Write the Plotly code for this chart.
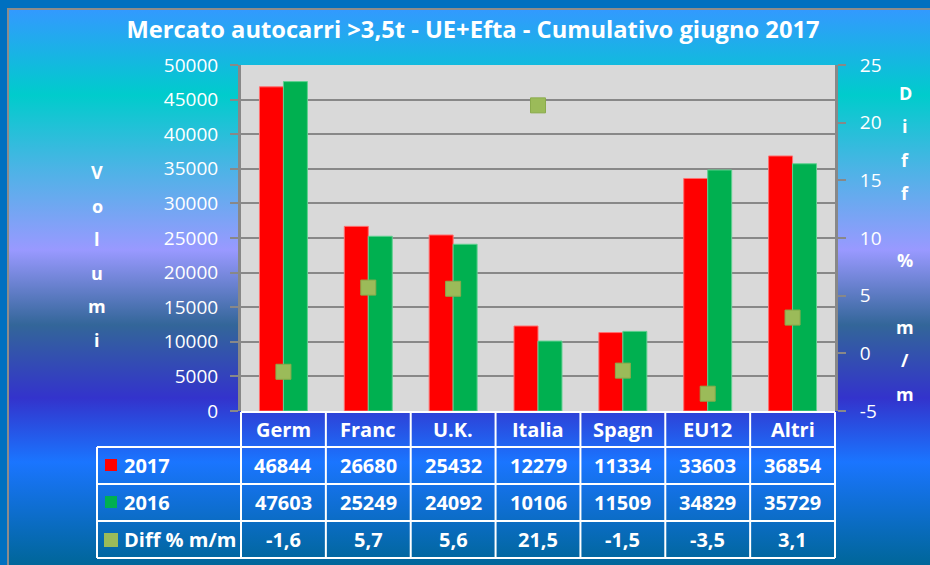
import base64
import plotly.graph_objects as go

# ---------------- data ----------------
categories = ["Germ", "Franc", "U.K.", "Italia", "Spagn", "EU12", "Altri"]
vol_2017 = [46844, 26680, 25432, 12279, 11334, 33603, 36854]
vol_2016 = [47603, 25249, 24092, 10106, 11509, 34829, 35729]
diff_pct = [-1.6, 5.7, 5.6, 21.5, -1.5, -3.5, 3.1]
series_names = ["2017", "2016", "Diff % m/m"]
left_ticks = [0, 5000, 10000, 15000, 20000, 25000, 30000, 35000, 40000, 45000, 50000]
right_ticks = [-5, 0, 5, 10, 15, 20, 25]
title_text = "Mercato autocarri >3,5t - UE+Efta - Cumulativo giugno 2017"
left_title = "Volumi"
right_title = "Diff % m/m"

# ---------------- styles ----------------
W, H = 930, 565
PL, PR, PT, PB = 241, 835, 65, 411
RED, GREEN, OLIVE = "#ff0000", "#00b050", "#9bbb59"
GRID = "#888888"
FONT = "Open Sans"


def px(x):
    return (x - PL) / (PR - PL)


def py(y):
    return (PB - y) / (PB - PT)


# gradient background as SVG
stops = [(9, "#3399ff"), (95, "#00cccc"), (170, "#4db3e6"), (250, "#9999ff"),
         (325, "#336699"), (398, "#3333cc"), (462, "#1a75ff"), (565, "#006699")]
stop_xml = "".join(
    f'<stop offset="{(y - 9) / 556:.4f}" stop-color="{c}"/>' for y, c in stops)
svg = (f'<svg xmlns="http://www.w3.org/2000/svg" width="{W}" height="{H}" '
       f'viewBox="0 0 {W} {H}" preserveAspectRatio="none"><defs>'
       f'<linearGradient id="g" x1="0" y1="9" x2="0" y2="565" gradientUnits="userSpaceOnUse">'
       f'{stop_xml}</linearGradient></defs>'
       f'<rect width="{W}" height="{H}" fill="#0070c0"/>'
       f'<rect x="8" y="9" width="960" height="620" fill="url(#g)" stroke="#8c8c8c" stroke-width="2"/>'
       f'</svg>')
svg_uri = "data:image/svg+xml;base64," + base64.b64encode(svg.encode()).decode()

fig = go.Figure()
fig.add_trace(go.Bar(x=categories, y=vol_2017, name=series_names[0],
                     marker=dict(color=RED, line=dict(color="#ff7070", width=1))))
fig.add_trace(go.Bar(x=categories, y=vol_2016, name=series_names[1],
                     marker=dict(color=GREEN, line=dict(color="#60d090", width=1))))
fig.add_trace(go.Scatter(x=categories, y=diff_pct, name=series_names[2], yaxis="y2",
                         mode="markers",
                         marker=dict(symbol="square", size=15, color=OLIVE,
                                     line=dict(color="#8aab4c", width=1))))

shapes = []
# plot area background
shapes.append(dict(type="rect", xref="paper", yref="paper", x0=0, x1=1, y0=0, y1=1,
                   fillcolor="#d9d9d9", line=dict(width=0), layer="below"))

# data table grid
ncat = len(categories)
colw = (PR - PL) / ncat
row_y = [412, 447, 484, 521, 558]
LW = dict(color="white", width=2)
shapes.append(dict(type="line", xref="paper", yref="paper",
                   x0=px(PL), x1=px(PR), y0=py(row_y[0]), y1=py(row_y[0]), line=LW))
for yy in row_y[1:]:
    shapes.append(dict(type="line", xref="paper", yref="paper",
                       x0=px(97), x1=px(PR), y0=py(yy), y1=py(yy), line=LW))
shapes.append(dict(type="line", xref="paper", yref="paper",
                   x0=px(97), x1=px(97), y0=py(row_y[1]), y1=py(row_y[-1]), line=LW))
for i in range(ncat + 1):
    xx = PL + i * colw
    shapes.append(dict(type="line", xref="paper", yref="paper",
                       x0=px(xx), x1=px(xx), y0=py(row_y[0]), y1=py(row_y[-1]), line=LW))

# legend keys in table
keys = [(RED, 105, 459, 12), (GREEN, 105, 496, 12), (OLIVE, 104, 533, 14)]
for c, kx, ky, ks in keys:
    shapes.append(dict(type="rect", xref="paper", yref="paper",
                       x0=px(kx), x1=px(kx + ks), y0=py(ky), y1=py(ky + ks),
                       fillcolor=c, line=dict(width=0)))

annotations = []
TF = dict(family=FONT, size=20, color="white", weight="bold")
row_c = [(row_y[i] + row_y[i + 1]) / 2 for i in range(4)]
for i, cat in enumerate(categories):
    cx = px(PL + (i + 0.5) * colw)
    vals = [cat, str(vol_2017[i]), str(vol_2016[i]),
            f"{diff_pct[i]:.1f}".replace(".", ",")]
    for r, v in enumerate(vals):
        annotations.append(dict(xref="paper", yref="paper", x=cx, y=py(row_c[r]),
                                text=v, showarrow=False, font=TF,
                                xanchor="center", yanchor="middle"))
for r, name in enumerate(series_names):
    annotations.append(dict(xref="paper", yref="paper", x=px(122), y=py(row_c[r + 1]),
                            text=name, showarrow=False, font=TF,
                            xanchor="left", yanchor="middle"))

# stacked axis titles
AF = dict(family=FONT, size=18, color="white", weight="bold")
for k, ch in enumerate(left_title):
    annotations.append(dict(xref="paper", yref="paper", x=px(97), y=py(172 + k * 33.6),
                            text=ch, showarrow=False, font=AF,
                            xanchor="center", yanchor="middle"))
for k, ch in enumerate(right_title):
    if ch.strip():
        annotations.append(dict(xref="paper", yref="paper", x=px(905), y=py(93 + k * 33.4),
                                text=ch, showarrow=False, font=AF,
                                xanchor="center", yanchor="middle"))

fig.update_layout(
    width=W, height=H,
    margin=dict(l=PL, r=W - PR, t=PT, b=H - PB, pad=0),
    paper_bgcolor="#0070c0", plot_bgcolor="rgba(0,0,0,0)",
    showlegend=False,
    barmode="group", bargap=0.435, bargroupgap=0,
    title=dict(text=title_text, x=473 / W, xref="container",
               y=1 - 30 / H, yref="container", xanchor="center", yanchor="middle",
               font=dict(family=FONT, size=23.7, color="white", weight="bold")),
    xaxis=dict(showticklabels=False, showgrid=False, ticks="", showline=False,
               zeroline=False),
    yaxis=dict(range=[0, 50000], tickvals=left_ticks, ticktext=[str(v) for v in left_ticks],
               showgrid=True, gridcolor=GRID, gridwidth=2, zeroline=False,
               showline=True, linecolor=GRID, linewidth=3,
               ticks="outside", ticklen=8, tickwidth=2, tickcolor=GRID,
               ticklabelstandoff=8,
               tickfont=dict(family=FONT, size=19, color="white")),
    yaxis2=dict(range=[-5, 25], tickvals=right_ticks, ticktext=[str(v) for v in right_ticks],
                overlaying="y", side="right", showgrid=False, zeroline=False,
                showline=True, linecolor=GRID, linewidth=3,
                ticks="outside", ticklen=8, tickwidth=2, tickcolor=GRID,
                ticklabelstandoff=10,
                tickfont=dict(family=FONT, size=19, color="white")),
    shapes=shapes,
    annotations=annotations,
    images=[dict(source=svg_uri, xref="paper", yref="paper",
                 x=-PL / (PR - PL), y=1 + PT / (PB - PT),
                 sizex=W / (PR - PL), sizey=H / (PB - PT),
                 xanchor="left", yanchor="top", sizing="stretch", layer="below")],
)

fig.write_html("out.html", config={"displayModeBar": False},
               post_script="document.body.style.margin='0';document.body.style.overflow='hidden';")
